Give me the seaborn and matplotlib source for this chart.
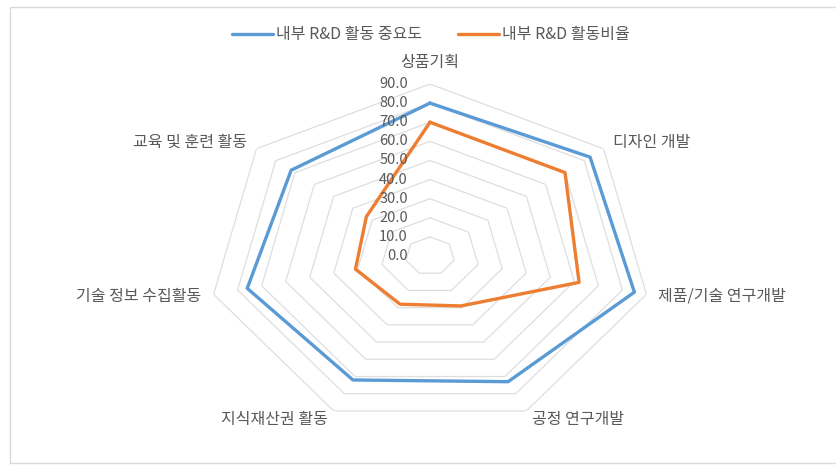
import numpy as np
import pandas as pd
import matplotlib
matplotlib.use("Agg")
import matplotlib.pyplot as plt
import matplotlib.transforms as mtransforms
from matplotlib.patches import Rectangle
import seaborn as sns

categories = ["상품기획", "디자인 개발", "제품/기술 연구개발", "공정 연구개발",
              "지식재산권 활동", "기술 정보 수집활동", "교육 및 훈련 활동"]
importance = [80.0, 83.0, 85.0, 73.0, 72.0, 76.0, 72.0]
ratio = [70.0, 70.0, 62.0, 29.0, 28.0, 31.0, 33.0]
series_names = ["내부 R&D 활동 중요도", "내부 R&D 활동비율"]
r_ticks = [0, 10, 20, 30, 40, 50, 60, 70, 80, 90]

sns.set_theme(style="white")
plt.rcParams['font.family'] = ['Noto Sans CJK KR', 'DejaVu Sans']

W, H = 837, 466
fig = plt.figure(figsize=(W / 100, H / 100), dpi=100)
fig.patch.set_facecolor("white")
fig.add_artist(Rectangle((10 / W, 3 / H), 1.2, (H - 10) / H, transform=fig.transFigure,
                         fill=False, edgecolor="#D9D9D9", linewidth=1.0))

ax = fig.add_axes([208 / W, 38 / H, 444 / W, 344 / H], projection="polar")
ax.set_aspect("auto")
ax.set_theta_zero_location("N")
ax.set_theta_direction(-1)
ax.set_ylim(0, 90)
ax.grid(False)
ax.spines["polar"].set_visible(False)
ax.set_xticks([])
ax.set_yticks([])
ax.set_facecolor("none")

n = len(categories)
angles = [2 * np.pi * i / n for i in range(n)]
closed = angles + [angles[0] + 2 * np.pi]

# polygon grid rings
for r in r_ticks[1:]:
    ax.plot(closed, [r] * (n + 1), color="#DEDEDE", linewidth=0.9, zorder=1)

rows = []
for name, vals in zip(series_names, [importance, ratio]):
    vv = list(vals) + [vals[0]]
    for a, v in zip(closed, vv):
        rows.append({"theta": a, "value": v, "series": name})
df = pd.DataFrame(rows)

sns.lineplot(data=df, x="theta", y="value", hue="series", sort=False,
             palette=["#5B9BD5", "#ED7D31"], linewidth=2.4, ax=ax, zorder=3,
             estimator=None)
ax.set_xlabel("")
ax.set_ylabel("")

# radial tick labels
off = mtransforms.offset_copy(ax.transData, fig=fig, x=-22, y=0, units="dots")
for r in r_ticks:
    ax.text(0, r, f"{r:.1f}", transform=off, ha="right", va="center",
            fontsize=10.5, color="#595959", zorder=4)

# category labels
for a, lab in zip(angles, categories):
    s = np.sin(a)
    if abs(s) < 1e-6:
        ax.text(a, 97, lab, ha="center", va="bottom", fontsize=11.5, color="#595959")
    else:
        ha = "left" if s > 0 else "right"
        ax.text(a, 95, lab, ha=ha, va="center", fontsize=11.5, color="#595959")

sns.move_legend(ax, "upper center", bbox_to_anchor=(431 / W, 1 - 12 / H),
                bbox_transform=fig.transFigure, ncol=2, frameon=False, title=None,
                fontsize=11.5, handlelength=2.6, columnspacing=2.2, handletextpad=0.2,
                labelcolor="#595959")

fig.savefig("out.png", dpi=100, facecolor="white")
